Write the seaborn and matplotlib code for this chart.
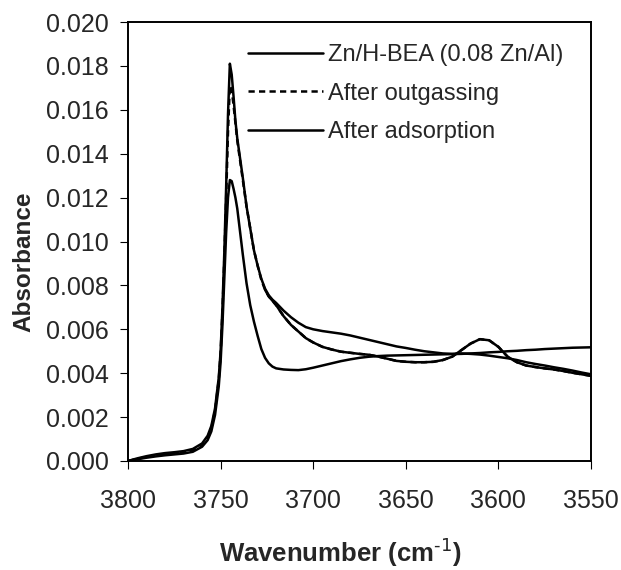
import numpy as np
import pandas as pd
import matplotlib
matplotlib.use("Agg")
import matplotlib.pyplot as plt
import seaborn as sns
from matplotlib.ticker import FormatStrFormatter

wavenumber = [3800, 3795, 3790, 3785, 3780, 3775, 3770, 3765, 3760, 3757, 3755, 3753,
              3751, 3750, 3749, 3748, 3747, 3746, 3745, 3744, 3743, 3742, 3741, 3740,
              3738, 3736, 3734, 3732, 3730, 3728, 3726, 3724, 3722, 3720, 3716, 3712,
              3708, 3704, 3700, 3695, 3690, 3685, 3680, 3675, 3670, 3665, 3660, 3655,
              3650, 3645, 3640, 3635, 3630, 3625, 3620, 3615, 3610, 3605, 3600, 3595,
              3590, 3585, 3580, 3575, 3570, 3565, 3560, 3555, 3550]

# absorbance values x 1e-3
zn_hbea = [0.0, 0.12, 0.22, 0.30, 0.36, 0.40, 0.45, 0.55, 0.80, 1.15, 1.6, 2.4,
           3.8, 5.0, 7.0, 9.5, 12.5, 15.8, 18.1, 17.6, 16.6, 15.5, 14.7, 14.1,
           12.9, 11.6, 10.6, 9.6, 8.9, 8.3, 7.85, 7.55, 7.35, 7.2, 6.85, 6.55,
           6.3, 6.1, 6.0, 5.92, 5.86, 5.8, 5.72, 5.62, 5.52, 5.42, 5.32, 5.22,
           5.15, 5.07, 5.0, 4.95, 4.9, 4.88, 4.9, 4.88, 4.85, 4.8, 4.74, 4.68,
           4.6, 4.5, 4.42, 4.35, 4.27, 4.2, 4.12, 4.03, 3.95]

after_outgassing = [0.0, 0.10, 0.18, 0.25, 0.30, 0.34, 0.38, 0.48, 0.72, 1.05, 1.5, 2.3,
                    3.7, 4.9, 6.8, 9.2, 12.0, 15.0, 17.1, 16.9, 16.2, 15.4, 14.6, 14.0,
                    12.8, 11.6, 10.6, 9.6, 8.9, 8.25, 7.8, 7.5, 7.3, 7.1, 6.6, 6.2,
                    5.9, 5.6, 5.4, 5.2, 5.08, 4.98, 4.93, 4.88, 4.84, 4.76, 4.66, 4.56,
                    4.52, 4.5, 4.5, 4.52, 4.6, 4.75, 5.05, 5.35, 5.55, 5.5, 5.2, 4.75,
                    4.5, 4.35, 4.28, 4.22, 4.17, 4.1, 4.02, 3.95, 3.88]

after_adsorption = [0.0, 0.08, 0.15, 0.21, 0.26, 0.30, 0.34, 0.42, 0.65, 0.95, 1.35, 2.1,
                    3.4, 4.5, 6.2, 8.3, 10.4, 12.0, 12.8, 12.75, 12.4, 12.0, 11.5, 10.8,
                    9.4, 8.1, 7.1, 6.35, 5.7, 5.1, 4.7, 4.45, 4.3, 4.22, 4.17, 4.15,
                    4.14, 4.18, 4.25, 4.35, 4.45, 4.55, 4.63, 4.7, 4.75, 4.78, 4.8, 4.81,
                    4.82, 4.83, 4.84, 4.85, 4.86, 4.87, 4.88, 4.9, 4.92, 4.95, 4.97, 5.0,
                    5.02, 5.05, 5.07, 5.1, 5.12, 5.14, 5.16, 5.17, 5.18]

labels = ["Zn/H-BEA (0.08 Zn/Al)", "After outgassing", "After adsorption"]
series = [zn_hbea, after_outgassing, after_adsorption]
styles = ["-", (0, (2.5, 1.7)), "-"]

sns.set_style("ticks")
plt.rcParams['font.family'] = ['Liberation Sans', 'DejaVu Sans']

fig = plt.figure(figsize=(6.21, 5.70), dpi=100)
ax = fig.add_axes([128/621, 1-461/570, 463/621, 439/570])

for lab, vals, ls in zip(labels, series, styles):
    df = pd.DataFrame({"wn": wavenumber, "abs": np.array(vals) * 1e-3})
    sns.lineplot(data=df, x="wn", y="abs", ax=ax, color="black", lw=1.8,
                 linestyle=ls, label=lab, sort=False, estimator=None)
    if ls != "-":
        # in the original the dashes only show on the steep peak; the flat tail looks solid
        tail = df[df["wn"] <= 3726]
        sns.lineplot(data=tail, x="wn", y="abs", ax=ax, color="black", lw=1.8,
                     sort=False, estimator=None, legend=False)

ax.set_xlim(3800, 3550)
ax.set_ylim(0, 0.020)
ax.set_xticks([3800, 3750, 3700, 3650, 3600, 3550])
ax.set_yticks(np.arange(0, 0.0201, 0.002))
ax.yaxis.set_major_formatter(FormatStrFormatter('%.3f'))
ax.tick_params(axis='both', direction='out', length=6, width=0.8, labelsize=18, color='black')
ax.tick_params(axis='x', pad=14)
ax.tick_params(axis='y', pad=8)
for sp in ax.spines.values():
    sp.set_visible(True)
    sp.set_linewidth(1.4)
    sp.set_color('black')

ax.set_xlabel("Wavenumber (cm$^{\\text{-1}}$)", fontsize=18.5, fontweight='bold')
ax.set_ylabel("Absorbance", fontsize=17.5, fontweight='bold')
ax.xaxis.set_label_coords(0.458, -0.170)
ax.yaxis.set_label_coords(-0.20, 0.453)

handles, labs = ax.get_legend_handles_labels()
ax.legend(handles[:3], labs[:3], loc='upper left', bbox_to_anchor=(0.259, 0.95),
          frameon=False, fontsize=17, handlelength=3.2, handletextpad=0.2,
          labelspacing=0.71, borderpad=0, borderaxespad=0)

fig.savefig("out.png", dpi=100)
